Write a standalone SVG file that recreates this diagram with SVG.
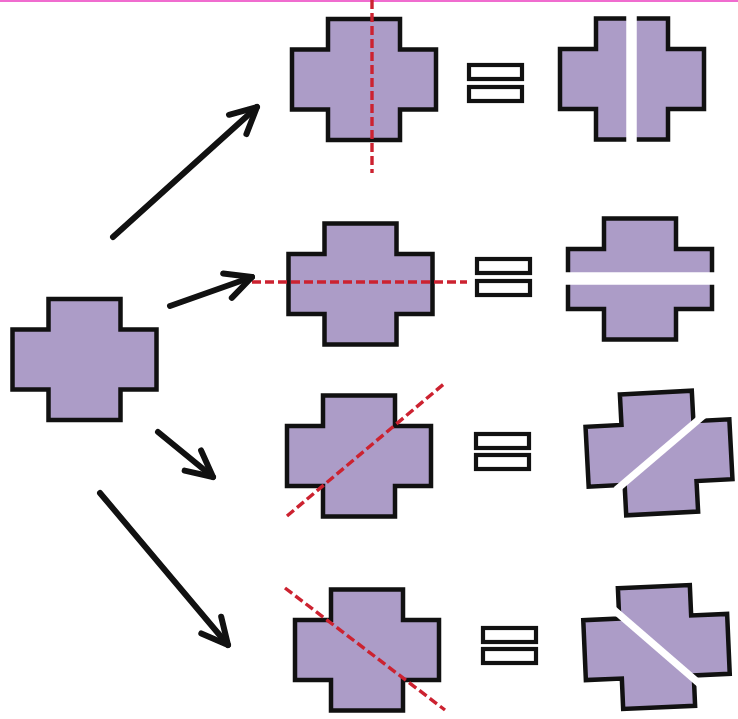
<svg xmlns="http://www.w3.org/2000/svg" width="738" height="719" viewBox="0 0 738 719">
  <style>
    .cross { fill: #ac9cc7; stroke: #111; stroke-width: 4.5; stroke-linejoin: miter; }
    .cut { fill: none; stroke: #cc2230; stroke-width: 3.4; stroke-dasharray: 9 4; }
    .gap { fill: none; stroke: #fff; }
    .eq { fill: #fff; stroke: #111; stroke-width: 4.2; }
    .arrow { fill: none; stroke: #111; stroke-width: 6; stroke-linecap: round; marker-end: url(#chevron); }
  </style>
  <defs>
    <path id="plus" d="M-36,-60.5 H36 V-30 H72 V30 H36 V60.5 H-36 V30 H-72 V-30 H-36 Z"/>
    <marker id="chevron" markerUnits="userSpaceOnUse" markerWidth="40" markerHeight="40" viewBox="-32 -20 40 40" refX="0" refY="0" orient="auto">
      <path d="M-26,-13 L0,0 L-26,13" fill="none" stroke="#111" stroke-width="6" stroke-linecap="round" stroke-linejoin="round"/>
    </marker>
  </defs>

  <rect x="0" y="0" width="738" height="719" fill="#fff"/>
  <rect x="0" y="0" width="738" height="2" fill="#f06ccf"/>

  <!-- source shape -->
  <g id="source">
    <use href="#plus" class="cross" transform="translate(84.5,359.5)"/>
  </g>

  <!-- row 1: vertical cut -->
  <g id="cut-vertical">
    <use href="#plus" class="cross" transform="translate(364,79.5)"/>
    <line class="cut" x1="372" y1="0" x2="372" y2="173"/>
  </g>
  <g id="eq-1">
    <rect class="eq" x="469" y="65" width="53" height="14"/>
    <rect class="eq" x="469" y="87" width="53" height="14"/>
  </g>
  <g id="split-vertical">
    <use href="#plus" class="cross" transform="translate(632,79)"/>
    <line class="gap" stroke-width="10.5" x1="631.5" y1="8" x2="631.5" y2="150"/>
  </g>

  <!-- row 2: horizontal cut -->
  <g id="cut-horizontal">
    <use href="#plus" class="cross" transform="translate(360.5,284)"/>
    <line class="cut" x1="252" y1="282" x2="467" y2="282"/>
  </g>
  <g id="eq-2">
    <rect class="eq" x="477" y="259" width="53" height="14"/>
    <rect class="eq" x="477" y="281" width="53" height="14"/>
  </g>
  <g id="split-horizontal">
    <use href="#plus" class="cross" transform="translate(640,279)"/>
    <line class="gap" stroke-width="12.5" x1="560" y1="278.5" x2="722" y2="278.5"/>
  </g>

  <!-- row 3: rising diagonal cut -->
  <g id="cut-rising">
    <use href="#plus" class="cross" transform="translate(359,456)"/>
    <line class="cut" x1="287" y1="516" x2="445" y2="383"/>
  </g>
  <g id="eq-3">
    <rect class="eq" x="476" y="434" width="53" height="14"/>
    <rect class="eq" x="476" y="455" width="53" height="14"/>
  </g>
  <g id="split-rising">
    <use href="#plus" class="cross" transform="translate(659,453) rotate(-3)"/>
    <line class="gap" stroke-width="7" x1="616" y1="490" x2="704" y2="415"/>
  </g>

  <!-- row 4: falling diagonal cut -->
  <g id="cut-falling">
    <use href="#plus" class="cross" transform="translate(367,650)"/>
    <line class="cut" x1="285" y1="588" x2="445" y2="710"/>
  </g>
  <g id="eq-4">
    <rect class="eq" x="483" y="628" width="53" height="14"/>
    <rect class="eq" x="483" y="649" width="53" height="14"/>
  </g>
  <g id="split-falling">
    <use href="#plus" class="cross" transform="translate(656.5,647) rotate(-2.5)"/>
    <line class="gap" stroke-width="7" x1="613" y1="609" x2="702" y2="686"/>
  </g>

  <!-- connectors -->
  <g id="connectors">
    <line class="arrow" x1="113" y1="237" x2="257" y2="107"/>
    <line class="arrow" x1="170" y1="306" x2="252" y2="277"/>
    <line class="arrow" x1="158" y1="432" x2="213" y2="477"/>
    <line class="arrow" x1="100" y1="493" x2="228" y2="645"/>
  </g>
</svg>
